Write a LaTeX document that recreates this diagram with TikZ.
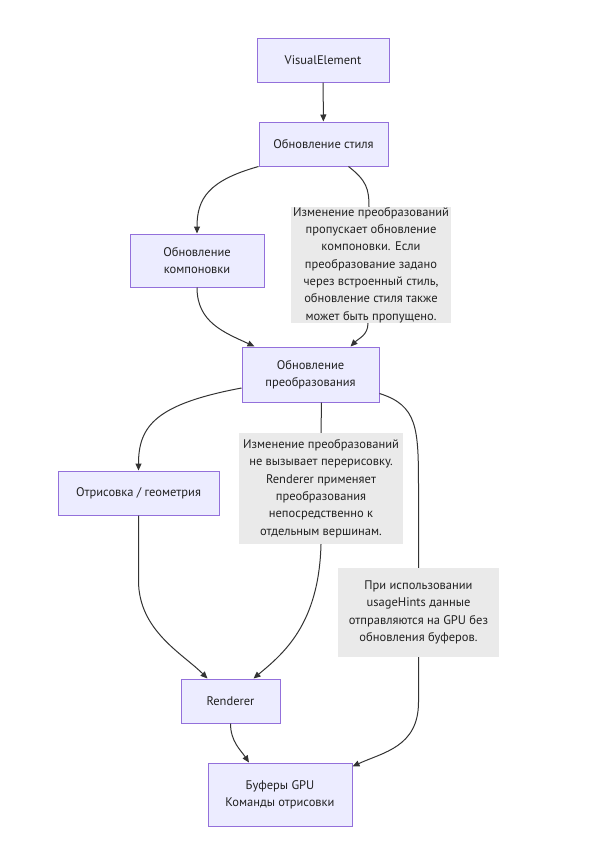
\documentclass[tikz,border=0pt]{standalone}
\usepackage{fontspec}
\setmainfont{PT Sans}
\usetikzlibrary{calc,arrows.meta}
\definecolor{boxfill}{HTML}{ECECFF}
\definecolor{boxline}{HTML}{9370DB}
\definecolor{notefill}{HTML}{EAEAEA}
\definecolor{edgec}{HTML}{333333}
\definecolor{txt}{HTML}{222222}
\begin{document}
\begin{tikzpicture}[x=1pt,y=-1pt,
  every node/.style={font=\fontsize{12.5}{17.3}\selectfont, text=txt, align=center, inner sep=0pt},
  proc/.style={draw=boxline, fill=boxfill, line width=1pt},
  note/.style={fill=notefill},
  link/.style={draw=edgec, line width=1pt},
  arr/.style={link, -{Triangle[length=7pt,width=6pt]}}]
\useasboundingbox[fill=white] (0,0) rectangle (593,855);
\node[proc, minimum width=132pt, minimum height=44pt] (ve) at (323,60) {VisualElement};
\node[proc, minimum width=129pt, minimum height=44pt] (st) at (323.5,144) {Обновление стиля};
\node[proc, minimum width=134pt, minimum height=53pt] (lay) at (197,260.5) {Обновление\\компоновки};
\node[proc, minimum width=137pt, minimum height=55pt] (tr) at (310.5,374.5) {Обновление\\преобразования};
\node[proc, minimum width=161pt, minimum height=44pt] (dr) at (138.5,493) {Отрисовка / геометрия};
\node[proc, minimum width=99pt, minimum height=44pt] (rn) at (230.5,701) {Renderer};
\node[proc, minimum width=144pt, minimum height=63pt] (gpu) at (280,794.5) {Буферы GPU\\Команды отрисовки};
\node[note, minimum width=160pt, minimum height=116pt] (n1) at (371,265) {Изменение преобразований\\пропускает обновление\\компоновки. Если\\преобразование задано\\через встроенный стиль,\\обновление стиля также\\может быть пропущено.};
\node[note, minimum width=164pt, minimum height=111pt] (n2) at (321,488.5) {Изменение преобразований\\не вызывает перерисовку.\\Renderer применяет\\преобразования\\непосредственно к\\отдельным вершинам.};
\node[note, minimum width=161pt, minimum height=89pt] (n3) at (418.5,612.5) {При использовании\\usageHints данные\\отправляются на GPU без\\обновления буферов.};

\draw[arr] (ve) -- (st);
\draw[arr] (st.south west) .. controls +(-50,14) and +(0,-35) .. (lay.north);
\draw[link] ($(st.south)+(25,0)$) .. controls +(18,14) and +(0,-18) .. ($(n1.north)+(-2,0)$);
\draw[arr] ($(n1.south)+(-3,0)$) .. controls +(0,12) and +(8,-8) .. ($(tr.north)+(40,0)$);
\draw[arr] (lay.south) .. controls +(0,35) and +(-30,-14) .. ($(tr.north)+(-56,0)$);
\draw[arr] ($(tr.west)+(0,13.5)$) .. controls +(-85,16) and +(0,-45) .. (dr.north);
\draw[link] ($(tr.south)+(11,0)$) -- (n2.north);
\draw[arr] (n2.south) .. controls +(-2,80) and +(30,-25) .. ($(rn.north)+(23,0)$);
\draw[link] ($(tr.east)+(0,19)$) .. controls +(38,12) and +(0,-60) .. ($(n3.north)+(0,-80)$) -- (n3.north);
\draw[arr] (n3.south) -- ($(n3.south)+(0,45)$) .. controls +(0,45) and +(30,-14) .. ($(gpu.north east)+(0,4)$);
\draw[arr] (dr.south) -- ($(dr.south)+(0,65)$) .. controls +(0,50) and +(-25,-25) .. ($(rn.north)+(-23,0)$);
\draw[arr] (rn.south) .. controls +(0,18) and +(-8,-12) .. ($(gpu.north)+(-31,0)$);
\end{tikzpicture}
\end{document}
